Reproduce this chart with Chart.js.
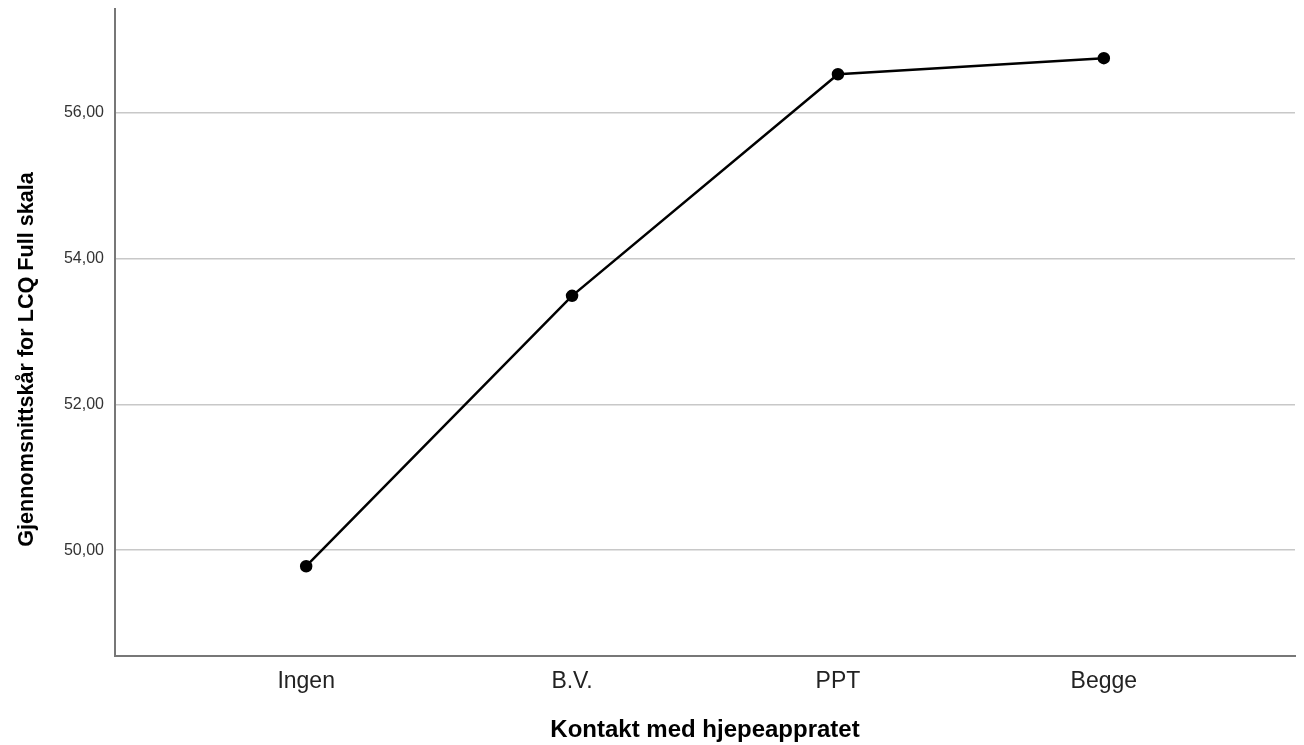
<!DOCTYPE html>
<html>
<head>
<meta charset="utf-8">
<script src="https://cdn.jsdelivr.net/npm/chart.js@4/dist/chart.umd.min.js"></script>
<style>
html,body{margin:0;padding:0;background:#fff;}
#wrap{width:1304px;height:745px;position:relative;}
</style>
</head>
<body>
<div id="wrap"><canvas id="c" width="1304" height="745"></canvas></div>
<script>
const categories = ["Ingen", "B.V.", "PPT", "Begge"];
const meanScores = [49.78, 53.49, 56.53, 56.75];
const yTicks = [50, 52, 54, 56];
const xTitle = "Kontakt med hjepeappratet";
const yTitle = "Gjennomsnittskår for LCQ Full skala";

const points = meanScores.map((v, i) => ({x: i, y: v}));

const yTitlePlugin = {
  id: 'yTitlePlugin',
  afterDraw(chart) {
    const {ctx, chartArea} = chart;
    ctx.save();
    ctx.font = 'bold 21.6px "Liberation Sans", Arial';
    ctx.fillStyle = '#000';
    ctx.textAlign = 'center';
    ctx.textBaseline = 'middle';
    ctx.translate(27, (chartArea.top + chartArea.bottom) / 2 + 27);
    ctx.rotate(-Math.PI / 2);
    ctx.fillText(yTitle, 0, 0);
    ctx.restore();
  }
};

new Chart(document.getElementById('c'), {
  type: 'line',
  data: {
    datasets: [{
      data: points,
      borderColor: '#000',
      backgroundColor: '#000',
      borderWidth: 2.5,
      pointRadius: 5,
      pointHoverRadius: 5,
      tension: 0
    }]
  },
  plugins: [yTitlePlugin],
  options: {
    responsive: false,
    animation: false,
    events: [],
    layout: {autoPadding: false, padding: {left: 0, right: 9, top: 9, bottom: 0}},
    plugins: {legend: {display: false}, tooltip: {enabled: false}},
    scales: {
      x: {
        type: 'linear',
        min: -0.719,
        max: 3.719,
        afterBuildTicks: s => { s.ticks = categories.map((_, i) => ({value: i})); },
        afterFit: s => { s.height = 89; s.paddingLeft = 0; s.paddingRight = 0; },
        grid: {display: false, drawTicks: false},
        border: {display: true, color: '#777', width: 2},
        ticks: {
          callback: v => categories[v] ?? '',
          font: {family: 'Liberation Sans, Arial', size: 23},
          color: '#222',
          padding: 12,
          maxRotation: 0,
          autoSkip: false
        },
        title: {
          display: true,
          text: xTitle,
          font: {family: 'Liberation Sans, Arial', size: 24, weight: 'bold'},
          color: '#000',
          padding: {top: 0, bottom: 0}
        }
      },
      y: {
        min: 48.548,
        max: 57.425,
        afterBuildTicks: s => { s.ticks = yTicks.map(v => ({value: v})); },
        afterFit: s => { s.width = 115; s.paddingTop = 0; s.paddingBottom = 0; },
        grid: {color: '#c8c8c8', lineWidth: 1.5, drawTicks: false},
        border: {display: true, color: '#777', width: 2},
        ticks: {
          callback: v => v.toFixed(2).replace('.', ','),
          font: {family: 'Liberation Sans, Arial', size: 16},
          color: '#333',
          padding: 11
        },
        title: {display: false}
      }
    }
  }
});
</script>
</body>
</html>
